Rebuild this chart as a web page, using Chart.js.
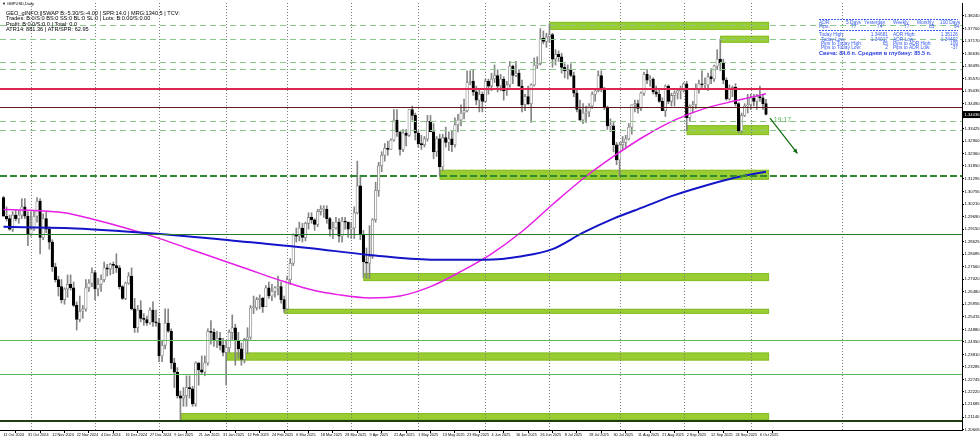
<!DOCTYPE html>
<html><head><meta charset="utf-8">
<script src="https://cdn.jsdelivr.net/npm/chart.js@4.4.0/dist/chart.umd.min.js"></script>
<style>html,body{margin:0;padding:0;background:#fff;}canvas{display:block}</style>
</head><body>
<canvas id="c" width="980" height="442"></canvas>
<script>
// ---------- DATA ----------
const xTickBars = [0,8,16,24,32,40,48,56,64,72,80,88,96,104,112,120,128,136,144,152,160,168,176,184,192,200,208,216,224,232,240,248];
const xTickLabels = ["11 Oct 2024","31 Oct 2024","12 Nov 2024","22 Nov 2024","4 Dec 2024","16 Dec 2024","27 Dec 2024","9 Jan 2025","21 Jan 2025","31 Jan 2025","12 Feb 2025","24 Feb 2025","6 Mar 2025","18 Mar 2025","28 Mar 2025","9 Apr 2025","21 Apr 2025","1 May 2025","13 May 2025","23 May 2025","4 Jun 2025","16 Jun 2025","26 Jun 2025","8 Jul 2025","18 Jul 2025","30 Jul 2025","11 Aug 2025","21 Aug 2025","2 Sep 2025","12 Sep 2025","24 Sep 2025","6 Oct 2025"];
const yTickLabels = ["1.38240","1.37700","1.37170","1.36635","1.36095","1.35570","1.35035","1.34490","1.33965","1.33425","1.32900","1.32360","1.31850","1.31295","1.30755","1.30210","1.29690","1.29150","1.28625","1.28085","1.27560","1.27020","1.26480","1.25955","1.25415","1.24880","1.24350","1.23810","1.23285","1.22745","1.22220","1.21685","1.21140","1.20605"];

const opens = [1.3050,1.2970,1.2960,1.2915,1.2975,1.2960,1.2975,1.3010,1.2970,1.2895,
1.2915,1.2970,1.3035,1.2880,1.2960,1.2915,1.2860,1.2755,1.2700,1.2670,
1.2615,1.2660,1.2680,1.2665,1.2590,1.2530,1.2565,1.2575,1.2665,1.2685,
1.2730,1.2660,1.2680,1.2700,1.2750,1.2745,1.2765,1.2760,1.2750,1.2670,
1.2620,1.2685,1.2715,1.2575,1.2495,1.2570,1.2535,1.2530,1.2515,1.2570,
1.2520,1.2515,1.2375,1.2420,1.2515,1.2480,1.2345,1.2305,1.2205,1.2195,
1.2205,1.2240,1.2235,1.2170,1.2345,1.2315,1.2305,1.2345,1.2480,1.2475,
1.2440,1.2450,1.2420,1.2390,1.2410,1.2475,1.2495,1.2440,1.2405,1.2360,
1.2445,1.2455,1.2580,1.2580,1.2615,1.2620,1.2585,1.2665,1.2630,1.2650,
1.2665,1.2670,1.2615,1.2575,1.2700,1.2770,1.2890,1.2885,1.2920,1.2880,
1.2940,1.2965,1.2955,1.2935,1.2990,1.3000,1.3000,1.2960,1.2915,1.2920,
1.2945,1.2885,1.2950,1.2945,1.2915,1.2920,1.2985,1.3100,1.2890,1.2775,
1.2770,1.2800,1.2955,1.3080,1.3185,1.3230,1.3260,1.3255,1.3295,1.3380,
1.3330,1.3255,1.3325,1.3315,1.3425,1.3400,1.3325,1.3280,1.3275,1.3300,
1.3375,1.3330,1.3245,1.3300,1.3180,1.3305,1.3285,1.3300,1.3275,1.3360,
1.3380,1.3410,1.3420,1.3540,1.3545,1.3500,1.3465,1.3490,1.3460,1.3545,
1.3525,1.3555,1.3570,1.3525,1.3555,1.3505,1.3530,1.3610,1.3570,1.3580,
1.3525,1.3445,1.3480,1.3450,1.3530,1.3615,1.3620,1.3730,1.3715,1.3735,
1.3745,1.3640,1.3660,1.3650,1.3605,1.3590,1.3595,1.3570,1.3495,1.3425,
1.3380,1.3410,1.3415,1.3440,1.3490,1.3505,1.3570,1.3510,1.3435,1.3355,
1.3355,1.3275,1.3210,1.3275,1.3285,1.3300,1.3350,1.3445,1.3450,1.3430,
1.3495,1.3575,1.3550,1.3555,1.3500,1.3490,1.3460,1.3420,1.3525,1.3460,
1.3485,1.3495,1.3505,1.3510,1.3535,1.3390,1.3440,1.3445,1.3510,1.3535,
1.3530,1.3530,1.3565,1.3555,1.3610,1.3640,1.3625,1.3550,1.3470,1.3510,
1.3520,1.3450,1.3335,1.3400,1.3440,1.3445,1.3475,1.3460,1.3480,1.3475,
1.3450];
const highs = [1.3055,1.3010,1.2975,1.2990,1.2995,1.2995,1.3045,1.3045,1.2990,1.2990,
1.2995,1.3050,1.3045,1.2980,1.2990,1.2925,1.2870,1.2770,1.2715,1.2700,
1.2665,1.2720,1.2720,1.2690,1.2605,1.2630,1.2590,1.2700,1.2700,1.2750,
1.2740,1.2705,1.2720,1.2775,1.2765,1.2770,1.2775,1.2810,1.2760,1.2675,
1.2690,1.2730,1.2750,1.2620,1.2590,1.2610,1.2555,1.2545,1.2580,1.2605,
1.2570,1.2535,1.2440,1.2575,1.2575,1.2490,1.2365,1.2325,1.2225,1.2240,
1.2290,1.2290,1.2245,1.2350,1.2345,1.2375,1.2375,1.2490,1.2525,1.2490,
1.2480,1.2475,1.2450,1.2440,1.2485,1.2550,1.2510,1.2475,1.2430,1.2450,
1.2495,1.2590,1.2630,1.2625,1.2635,1.2625,1.2675,1.2690,1.2680,1.2670,
1.2715,1.2690,1.2630,1.2715,1.2790,1.2895,1.2920,1.2945,1.2940,1.2945,
1.2985,1.2985,1.2960,1.3000,1.3015,1.3015,1.3015,1.2965,1.2945,1.2965,
1.2960,1.2965,1.2965,1.2945,1.2945,1.3010,1.3205,1.3145,1.2910,1.2835,
1.2930,1.2960,1.3115,1.3200,1.3245,1.3280,1.3290,1.3300,1.3425,1.3425,
1.3330,1.3340,1.3340,1.3425,1.3440,1.3410,1.3335,1.3315,1.3310,1.3400,
1.3400,1.3365,1.3310,1.3320,1.3320,1.3350,1.3330,1.3335,1.3390,1.3405,
1.3445,1.3470,1.3590,1.3590,1.3595,1.3525,1.3515,1.3500,1.3555,1.3555,
1.3580,1.3615,1.3595,1.3575,1.3565,1.3545,1.3630,1.3615,1.3630,1.3595,
1.3550,1.3490,1.3525,1.3535,1.3645,1.3650,1.3770,1.3760,1.3750,1.3790,
1.3750,1.3680,1.3675,1.3665,1.3620,1.3615,1.3620,1.3585,1.3510,1.3465,
1.3450,1.3440,1.3450,1.3500,1.3515,1.3590,1.3590,1.3520,1.3440,1.3385,
1.3370,1.3285,1.3285,1.3310,1.3315,1.3365,1.3445,1.3465,1.3465,1.3500,
1.3585,1.3595,1.3570,1.3560,1.3525,1.3510,1.3475,1.3530,1.3530,1.3495,
1.3505,1.3515,1.3525,1.3540,1.3545,1.3445,1.3460,1.3535,1.3550,1.3590,
1.3560,1.3580,1.3600,1.3615,1.3680,1.3726,1.3640,1.3560,1.3530,1.3525,
1.3535,1.3455,1.3410,1.3450,1.3490,1.3490,1.3490,1.3490,1.3525,1.3490,
1.3468];
const lows = [1.2970,1.2950,1.2910,1.2905,1.2950,1.2940,1.2960,1.2960,1.2845,1.2885,
1.2910,1.2945,1.2810,1.2870,1.2900,1.2830,1.2735,1.2690,1.2630,1.2600,
1.2595,1.2625,1.2655,1.2585,1.2485,1.2520,1.2535,1.2565,1.2650,1.2670,
1.2615,1.2630,1.2650,1.2690,1.2715,1.2720,1.2725,1.2730,1.2660,1.2615,
1.2615,1.2680,1.2570,1.2475,1.2475,1.2520,1.2505,1.2505,1.2510,1.2500,
1.2500,1.2350,1.2350,1.2405,1.2475,1.2320,1.2240,1.2195,1.2100,1.2160,
1.2160,1.2195,1.2160,1.2160,1.2250,1.2300,1.2290,1.2335,1.2425,1.2415,
1.2410,1.2400,1.2375,1.2250,1.2390,1.2445,1.2335,1.2365,1.2335,1.2345,
1.2385,1.2445,1.2555,1.2570,1.2575,1.2560,1.2585,1.2620,1.2610,1.2625,
1.2635,1.2600,1.2560,1.2570,1.2680,1.2760,1.2860,1.2865,1.2860,1.2865,
1.2915,1.2940,1.2910,1.2925,1.2975,1.2965,1.2940,1.2885,1.2875,1.2915,
1.2860,1.2860,1.2915,1.2880,1.2875,1.2875,1.2980,1.2870,1.2710,1.2705,
1.2705,1.2790,1.2945,1.3055,1.3160,1.3205,1.3230,1.3255,1.3290,1.3310,
1.3230,1.3245,1.3270,1.3310,1.3380,1.3295,1.3265,1.3255,1.3265,1.3290,
1.3335,1.3215,1.3225,1.3140,1.3165,1.3265,1.3250,1.3245,1.3265,1.3330,
1.3355,1.3385,1.3415,1.3530,1.3485,1.3445,1.3415,1.3415,1.3455,1.3490,
1.3505,1.3540,1.3500,1.3505,1.3465,1.3485,1.3520,1.3535,1.3565,1.3525,
1.3415,1.3420,1.3445,1.3370,1.3525,1.3600,1.3615,1.3705,1.3690,1.3710,
1.3605,1.3615,1.3630,1.3580,1.3560,1.3555,1.3565,1.3480,1.3415,1.3380,
1.3365,1.3370,1.3395,1.3430,1.3460,1.3500,1.3500,1.3425,1.3340,1.3330,
1.3245,1.3190,1.3140,1.3255,1.3265,1.3295,1.3320,1.3415,1.3410,1.3420,
1.3485,1.3535,1.3525,1.3490,1.3480,1.3455,1.3420,1.3395,1.3450,1.3440,
1.3440,1.3470,1.3470,1.3500,1.3335,1.3375,1.3410,1.3430,1.3495,1.3515,
1.3510,1.3505,1.3535,1.3545,1.3595,1.3590,1.3535,1.3465,1.3465,1.3480,
1.3440,1.3325,1.3325,1.3395,1.3410,1.3425,1.3440,1.3425,1.3460,1.3425,
1.3402];
const closes = [1.2970,1.2960,1.2915,1.2975,1.2960,1.2975,1.3010,1.2970,1.2895,1.2915,
1.2970,1.3035,1.2880,1.2960,1.2915,1.2860,1.2755,1.2700,1.2670,1.2615,
1.2660,1.2680,1.2665,1.2590,1.2530,1.2565,1.2575,1.2665,1.2685,1.2730,
1.2660,1.2680,1.2700,1.2750,1.2745,1.2765,1.2760,1.2750,1.2670,1.2620,
1.2685,1.2715,1.2575,1.2495,1.2570,1.2535,1.2530,1.2515,1.2570,1.2520,
1.2515,1.2375,1.2420,1.2515,1.2480,1.2345,1.2305,1.2205,1.2195,1.2205,
1.2240,1.2235,1.2170,1.2345,1.2315,1.2305,1.2345,1.2480,1.2475,1.2440,
1.2450,1.2420,1.2390,1.2410,1.2475,1.2495,1.2440,1.2405,1.2360,1.2445,
1.2455,1.2580,1.2580,1.2615,1.2620,1.2585,1.2665,1.2630,1.2650,1.2665,
1.2670,1.2615,1.2575,1.2700,1.2770,1.2890,1.2885,1.2920,1.2880,1.2940,
1.2965,1.2955,1.2935,1.2990,1.3000,1.3000,1.2960,1.2915,1.2920,1.2945,
1.2885,1.2950,1.2945,1.2915,1.2920,1.2985,1.3100,1.2890,1.2775,1.2770,
1.2800,1.2955,1.3080,1.3185,1.3230,1.3260,1.3255,1.3295,1.3380,1.3330,
1.3255,1.3325,1.3315,1.3425,1.3400,1.3325,1.3280,1.3275,1.3300,1.3375,
1.3330,1.3245,1.3300,1.3180,1.3305,1.3285,1.3300,1.3275,1.3360,1.3380,
1.3410,1.3420,1.3540,1.3545,1.3500,1.3465,1.3490,1.3460,1.3545,1.3525,
1.3555,1.3570,1.3525,1.3555,1.3505,1.3530,1.3610,1.3570,1.3580,1.3525,
1.3445,1.3480,1.3450,1.3530,1.3615,1.3620,1.3730,1.3715,1.3735,1.3745,
1.3640,1.3660,1.3650,1.3605,1.3590,1.3595,1.3570,1.3495,1.3425,1.3380,
1.3410,1.3415,1.3440,1.3490,1.3505,1.3570,1.3510,1.3435,1.3355,1.3355,
1.3275,1.3210,1.3275,1.3285,1.3300,1.3350,1.3445,1.3450,1.3430,1.3495,
1.3575,1.3550,1.3555,1.3500,1.3490,1.3460,1.3420,1.3525,1.3460,1.3485,
1.3495,1.3505,1.3510,1.3535,1.3390,1.3440,1.3445,1.3510,1.3535,1.3530,
1.3530,1.3565,1.3555,1.3610,1.3640,1.3625,1.3550,1.3470,1.3510,1.3520,
1.3450,1.3335,1.3400,1.3440,1.3445,1.3475,1.3460,1.3480,1.3475,1.3450,
1.3404];

// moving averages (bar index, price)
const sma100Bars = [0,10,20,30,40,50,60,70,80,90,100,110,120,130,140,150,160,170,180,190,200,210,220,230,240,250];
const sma100Vals = [1.2999,1.2995,1.2985,1.2955,1.2920,1.2880,1.2835,1.2790,1.2745,1.2700,1.2660,1.2635,1.2622,1.2630,1.2670,1.2735,1.2810,1.2905,1.3020,1.3130,1.3225,1.3310,1.3380,1.3430,1.3462,1.3492];
const sma200Bars = [0,20,40,60,80,100,120,140,158,170,180,190,200,210,220,230,240,250];
const sma200Vals = [1.2925,1.2920,1.2905,1.2885,1.2860,1.2835,1.2805,1.2785,1.2785,1.2800,1.2830,1.2900,1.2960,1.3010,1.3060,1.3100,1.3135,1.3160];

// horizontal levels
const lightDashLevels = [1.37859,1.37267,1.36293,1.35997,1.33753,1.33373];
const redLevels = [1.35108];
const darkRedLevels = [1.34346];
const greenDashLevels = [1.31425];
const darkGreenLevels = [1.28928];
const greenLevels = [1.24442,1.22960];
const bottomLevels = [1.20971];

// zones
const zoneStartBars = [179,235,224,143,118,92,73,58];
const zoneHighs = [1.37986,1.37393,1.33584,1.31680,1.27278,1.25754,1.23891,1.21310];
const zoneLows  = [1.37647,1.37097,1.33161,1.31256,1.26939,1.25542,1.23552,1.21014];
const zoneEndBar = 251;

// period separators (first bar of each month) and extra vertical line
const monthStartBars = [9,30,51,73,93,114,136,158,179,202,223,245];
const extraVLineBars = [275];

const currentPrice = 1.34036;
const currentLabel = "1.34036";

// ---------- CHART ----------
const FONT = "'Liberation Sans', Arial, sans-serif";
const bodies = closes.map((c,i)=>({x:i, y:[opens[i], c]}));
const wicks = closes.map((c,i)=>({x:i, y:[lows[i], highs[i]]}));
const bodyFill = closes.map((c,i)=> c>=opens[i] ? '#ffffff' : '#000000');
const bodyBorder = closes.map((c,i)=> c>=opens[i] ? '#858585' : '#000000');

const overlay = {
  id:'overlay',
  beforeDatasetsDraw(chart){
    const {ctx, chartArea:a, scales:{x,y}} = chart;
    ctx.save();
    ctx.beginPath(); ctx.rect(a.left,a.top,a.right-a.left,a.bottom-a.top); ctx.clip();
    zoneStartBars.forEach((s,i)=>{
      const x1 = x.getPixelForValue(s), x2 = x.getPixelForValue(zoneEndBar);
      const y1 = y.getPixelForValue(zoneHighs[i]), y2 = y.getPixelForValue(zoneLows[i]);
      ctx.fillStyle = '#9acd32';
      ctx.fillRect(x1,y1,x2-x1,y2-y1);
      ctx.strokeStyle = '#86bd2a'; ctx.lineWidth = 1;
      ctx.strokeRect(x1+0.5,y1+0.5,x2-x1-1,y2-y1-1);
    });
    ctx.strokeStyle = '#7a7a7a'; ctx.lineWidth = 1; ctx.setLineDash([1,2]);
    monthStartBars.concat(extraVLineBars).forEach(b=>{
      const px = Math.round(x.getPixelForValue(b))+0.5;
      ctx.beginPath(); ctx.moveTo(px,a.top); ctx.lineTo(px,a.bottom); ctx.stroke();
    });
    ctx.setLineDash([]);
    ctx.restore();
  },
  afterDatasetsDraw(chart){
    const {ctx, chartArea:a, scales:{x,y}} = chart;
    ctx.save();
    ctx.beginPath(); ctx.rect(a.left,a.top,a.right-a.left,a.bottom-a.top); ctx.clip();
    const hline = (v,color,w,dash)=>{
      const py = Math.round(y.getPixelForValue(v))+ (w%2?0.5:0);
      ctx.strokeStyle=color; ctx.lineWidth=w; ctx.setLineDash(dash||[]);
      ctx.beginPath(); ctx.moveTo(a.left,py); ctx.lineTo(a.right,py); ctx.stroke();
    };
    lightDashLevels.forEach(v=>hline(v,'#8cc88c',1,[6,4]));
    redLevels.forEach(v=>hline(v,'#dc2850',2));
    darkRedLevels.forEach(v=>hline(v,'#5a1e14',1));
    greenDashLevels.forEach(v=>hline(v,'#2e8b2e',2,[7,3]));
    darkGreenLevels.forEach(v=>hline(v,'#2a7a2a',1));
    greenLevels.forEach(v=>hline(v,'#5cb85c',1));
    bottomLevels.forEach(v=>hline(v,'#1f3f0f',2));
    ctx.setLineDash([]);
    ctx.fillStyle = '#5cb85c'; ctx.font = "7px "+FONT; ctx.textBaseline='middle';
    ctx.fillText("19:17", x.getPixelForValue(252.5), y.getPixelForValue(1.3380));
    const ax1 = x.getPixelForValue(251.3), ay1 = y.getPixelForValue(1.3388);
    const ax2 = x.getPixelForValue(260.3), ay2 = y.getPixelForValue(1.3238);
    ctx.strokeStyle='#0f6b0f'; ctx.lineWidth=1.2;
    ctx.beginPath(); ctx.moveTo(ax1,ay1); ctx.lineTo(ax2,ay2); ctx.stroke();
    const ang = Math.atan2(ay2-ay1, ax2-ax1);
    ctx.fillStyle='#0f6b0f'; ctx.beginPath();
    ctx.moveTo(ax2,ay2);
    ctx.lineTo(ax2-5*Math.cos(ang-0.45), ay2-5*Math.sin(ang-0.45));
    ctx.lineTo(ax2-5*Math.cos(ang+0.45), ay2-5*Math.sin(ang+0.45));
    ctx.closePath(); ctx.fill();
    ctx.restore();
  },
  afterDraw(chart){
    const {ctx, chartArea:a, scales:{y}} = chart;
    ctx.save();
    const py = y.getPixelForValue(currentPrice);
    ctx.fillStyle='#000'; ctx.fillRect(a.right+1, py-3.5, 17, 7);
    ctx.fillStyle='#fff'; ctx.font="4.2px "+FONT; ctx.textBaseline='middle'; ctx.textAlign='left';
    ctx.fillText(currentLabel, a.right+2.5, py);
    ctx.fillStyle='#000'; ctx.textBaseline='middle';
    ctx.font="4px "+FONT;
    ctx.fillText("\u25BC GBPUSD,Daily", 2, 3.5);
    ctx.font="5.6px "+FONT;
    const info = ["GEO_gINFO:||SWAP B:-5.30/S:-4.00 | SPR:14.0 | MRG:1340.5 | TCV:",
      "Trades: B:0/S:0 BS:0 SS:0 BL:0 SL:0 | Lots: B:0.00/S:0.00",
      "Profit: B:0.0/S:0.0 | Total: 0.0",
      "ATR14: 881.36 | ATR/SPR: 62.95"];
    info.forEach((t,i)=>ctx.fillText(t, 6, 13+i*5.5));
    const blue='#3a5cf0';
    ctx.fillStyle=blue; ctx.font="4.8px "+FONT;
    ctx.strokeStyle=blue; ctx.lineWidth=1; ctx.setLineDash([2,1]);
    [19.5,30.5].forEach(yy=>{ctx.beginPath(); ctx.moveTo(819,yy); ctx.lineTo(958,yy); ctx.stroke();});
    ctx.setLineDash([]);
    const hdr=[["ADR:",819],["5 Days",846],["Yesterday",864],["Weekly",893],["Monthly",917],["100 Days",940]];
    hdr.forEach(h=>ctx.fillText(h[0],h[1],22.5));
    const pv=[["Pips:",819],["77",851],["74",877],["77",904],["85",929],["94",954]];
    pv.forEach(h=>ctx.fillText(h[0],h[1],26.5));
    const rows=[["Today High:","1.34681","ADR High:","1.35126"],["Today Low:","1.34017","ADR Low:","1.34402"],["Pips to Today High:","65","Pips to ADR High:","109"],["Pips to Today Low:","2","Pips to ADR Low:","-37"]];
    rows.forEach((r,i)=>{
      const yy=35+i*4.2;
      ctx.textAlign='left'; ctx.fillText(r[0],i==0?819:821,yy); ctx.fillText(r[2],893,yy);
      ctx.textAlign='right'; ctx.fillText(r[1],888,yy); ctx.fillText(r[3],958,yy);
    });
    ctx.textAlign='left';
    ctx.font="bold 5.6px "+FONT; ctx.fillStyle='#2a3ee0';
    ctx.fillText("\u0421\u0432\u0435\u0447\u0430: 84.6 \u043f. \u0421\u0440\u0435\u0434\u043d\u044f\u044f \u0432 \u0433\u043b\u0443\u0431\u0438\u043d\u0443: 85.5 \u043f.", 819, 53);
    ctx.restore();
  }
};

new Chart(document.getElementById('c'), {
  type:'bar',
  data:{datasets:[
    {type:'line', label:'SMA200', data:sma200Bars.map((b,i)=>({x:b,y:sma200Vals[i]})), borderColor:'#1414c8', borderWidth:2, pointRadius:0, cubicInterpolationMode:'monotone', order:0},
    {type:'line', label:'SMA100', data:sma100Bars.map((b,i)=>({x:b,y:sma100Vals[i]})), borderColor:'#e61ee6', borderWidth:1.5, pointRadius:0, cubicInterpolationMode:'monotone', order:0},
    {label:'body', data:bodies, backgroundColor:bodyFill, borderColor:bodyBorder, borderWidth:0.8, borderSkipped:false, barThickness:2.6, minBarLength:1, grouped:false, order:1},
    {label:'wick', data:wicks, backgroundColor:'#858585', borderWidth:0, barThickness:1, grouped:false, order:2}
  ]},
  options:{
    responsive:false, animation:false, devicePixelRatio:1,
    layout:{padding:0},
    plugins:{legend:{display:false}, tooltip:{enabled:false}},
    scales:{
      x:{type:'linear', min:-1.15, max:314.26, offset:false,
        grid:{display:true, drawOnChartArea:false, color:'#000', tickLength:3},
        border:{display:true, color:'#000'},
        afterBuildTicks:(s)=>{ s.ticks = xTickBars.map(v=>({value:v})); },
        afterFit:(s)=>{ s.height = 12; },
        ticks:{autoSkip:false, maxRotation:0, align:'start', padding:0, color:'#000', font:{family:FONT, size:3.8},
          callback:(v,i)=>xTickLabels[i]}
      },
      y:{type:'linear', position:'right', min:1.20590, max:1.38790,
        grid:{display:true, drawOnChartArea:false, color:'#000', tickLength:2},
        border:{display:true, color:'#000'},
        afterBuildTicks:(s)=>{ s.ticks = yTickLabels.map(t=>({value:parseFloat(t)})); },
        afterFit:(s)=>{ s.width = 18; },
        ticks:{autoSkip:false, padding:0.5, color:'#000', font:{family:FONT, size:4.2},
          callback:(v,i)=>yTickLabels[i]}
      }
    }
  },
  plugins:[overlay]
});
</script>
</body></html>
